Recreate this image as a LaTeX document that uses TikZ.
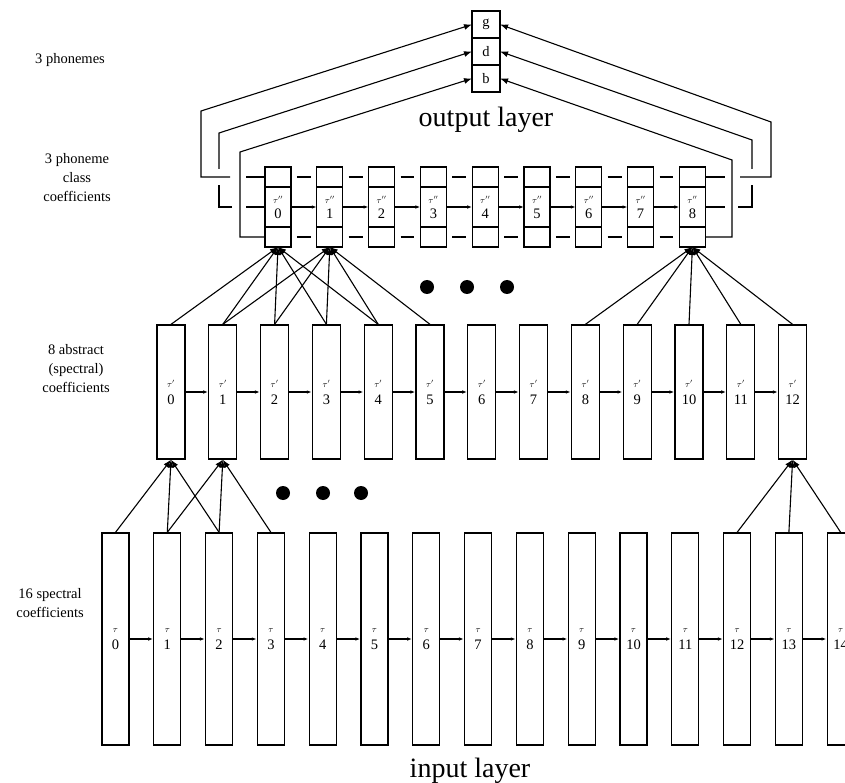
\documentclass[tikz,border=0pt]{standalone}
\usepackage{fontspec}
\setmainfont{Liberation Serif}
\usetikzlibrary{calc, positioning, arrows.meta}

\newcommand{\taulbl}[1]{{\fontsize{9}{9}\selectfont$\tau#1$}}

\begin{document}
\begin{tikzpicture}[
  x=1pt, y=-1pt,
  line width=1.1pt,
  inbox/.style={
    draw,
    line width=1.3pt,
    minimum width=27pt,
    minimum height=212pt,
    inner sep=0pt,
    align=center,
    font=\fontsize{14.5}{17}\selectfont
    },
  hidbox/.style={inbox, minimum width=28pt, minimum height=134pt},
  cell/.style={
    draw,
    line width=1.3pt,
    outer sep=0pt,
    minimum width=26pt,
    minimum height=#1,
    inner sep=0pt,
    align=center,
    font=\fontsize{14.5}{15}\selectfont
    },
  outcell/.style={cell=27pt, minimum width=28pt},
  delay/.style={-{Latex[length=5pt,width=3.5pt]}},
  feed/.style={-{Latex[length=8pt,width=6pt]}},
  lbl/.style={align=center, font=\fontsize{14.5}{19}\selectfont},
  big/.style={font=\fontsize{28}{30}\selectfont}
]

\useasboundingbox (0,0) rectangle (845,783);
\clip (0,0) rectangle (845,783);

% input layer
\foreach \i in {0,...,14}
  \node[inbox] (in\i) at ({115.5+51.8*\i},639) {\taulbl{}\\\i};
\foreach \i [count=\n] in {0,...,13}
  \draw[delay] (in\i) -- (in\n);

% first hidden layer
\foreach \j in {0,...,12}
  \node[hidbox] (hid\j) at ({171+51.8*\j},392) {\taulbl{'}\\\j};
\foreach \j [count=\n] in {0,...,11}
  \draw[delay] (hid\j) -- (hid\n);

% second hidden layer
\foreach \k in {0,...,8}{
  \node[cell=40pt] (mid\k) at ({278+51.8*\k},207) {\taulbl{''}\\\k};
  \node[cell=20pt, above=0pt of mid\k] (top\k) {};
  \node[cell=20pt, below=0pt of mid\k] (bot\k) {};
}
\foreach \k [count=\n] in {0,...,7}{
  \draw[delay] (mid\k) -- (mid\n);
  \draw ($(top\k.east)!0.23!(top\n.west)$) -- ($(top\k.east)!0.77!(top\n.west)$);
  \draw ($(bot\k.east)!0.23!(bot\n.west)$) -- ($(bot\k.east)!0.77!(bot\n.west)$);
}

% output layer
\node[outcell] (outg) at (486,24.5) {g};
\node[outcell, below=0pt of outg] (outd) {d};
\node[outcell, below=0pt of outd] (outb) {b};

% windows
\foreach \j in {0,1,12}
  \foreach \d in {0,1,2}{
    \pgfmathtruncatemacro\m{\j+\d}
    \draw[feed] (in\m.north) -- (hid\j.south);
  }
\foreach \k in {0,1,8}
  \foreach \d in {0,...,4}{
    \pgfmathtruncatemacro\m{\k+\d}
    \draw[feed] (hid\m.north) -- (bot\k.south);
  }

% integration, left side
\coordinate (gL) at (201,111);
\coordinate (dL) at (219,133);
\coordinate (bL) at (240,152);
\coordinate (gLin) at (246,177);
\coordinate (gLout) at (230,177);
\coordinate (dLin) at (246,207);
\coordinate (dLout) at (232,207);
\coordinate (dLlow) at (219,185);
\coordinate (dLhigh) at (219,169);
\draw (gLin) -- (top0.west);
\draw (dLin) -- (mid0.west);
\draw[feed] (gLout) -| (gL) -- (outg.west);
\draw (dLout) -| (dLlow);
\draw[feed] (dLhigh) -- (dL) -- (outd.west);
\draw[feed] (bot0.west) -| (bL) -- (outb.west);

% integration, right side
\coordinate (gR) at (771,122);
\coordinate (dR) at (752,140);
\coordinate (bR) at (732,160);
\coordinate (gRin) at (725,177);
\coordinate (gRout) at (740,177);
\coordinate (dRin) at (725,207);
\coordinate (dRout) at (738,207);
\coordinate (dRlow) at (752,185);
\coordinate (dRhigh) at (752,169);
\draw (top8.east) -- (gRin);
\draw (mid8.east) -- (dRin);
\draw[feed] (gRout) -| (gR) -- (outg.east);
\draw (dRout) -| (dRlow);
\draw[feed] (dRhigh) -- (dR) -- (outd.east);
\draw[feed] (bot8.east) -| (bR) -- (outb.east);

% dots
\foreach \x in {427,467,507}
  \fill (\x,287) circle[radius=7pt];
\foreach \x in {283,323,361}
  \fill (\x,493) circle[radius=7pt];

% labels
\node[big, anchor=base] (outlbl) at (486,127) {output layer};
\node[big, anchor=base] (inlbl) at (470,777) {input layer};
\node[lbl] (phon) at (70,60) {3 phonemes};
\node[lbl] (cls) at (77,178) {3 phoneme\\class\\coefficients};
\node[lbl] (abst) at (76,369) {8 abstract\\(spectral)\\coefficients};
\node[lbl] (spec) at (50,603) {16 spectral\\coefficients};

\end{tikzpicture}
\end{document}
